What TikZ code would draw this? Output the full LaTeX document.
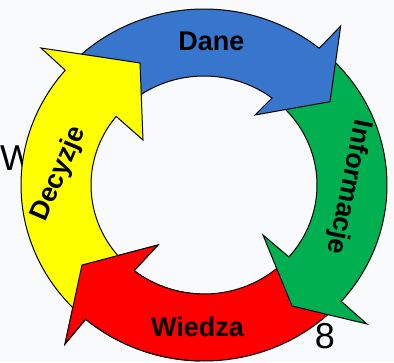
\documentclass[tikz,border=0pt]{standalone}
\usepackage{fontspec}
\setmainfont{Liberation Sans}
\definecolor{bgC}{RGB}{249,250,252}
\definecolor{blueC}{RGB}{55,118,204}
\definecolor{greenC}{RGB}{0,176,80}
\definecolor{redC}{RGB}{255,0,0}
\definecolor{yellowC}{RGB}{255,255,0}
\tikzset{
  arrowshape/.style={draw=black, line width=1pt, line join=miter},
  lbl/.style={font=\fontsize{27}{31}\selectfont\bfseries, inner sep=0pt, anchor=base},
  stray/.style={font=\fontsize{36}{40}\selectfont, inner sep=0pt, anchor=base}
}
\newcommand{\redarrowpath}{plot[variable=\t,domain=44.5:130.3,samples=50] ({204+183*cos(\t)},{185+176*sin(\t)}) -- (65,344) -- (82,265) -- (158,245) -- plot[variable=\t,domain=128.2:45.5,samples=50] ({204+113*cos(\t)},{185+109*sin(\t)}) -- cycle}
\begin{document}
\begin{tikzpicture}[x=1pt,y=-1pt]
\useasboundingbox (0,0) rectangle (394,362);
\clip (0,0) rectangle (394,362);
\fill[bgC] (0,0) rectangle (394,362);
% stray texts behind
\node[stray] (wlet) at (17,170) {W};
\node[stray] (eight) at (325,348) {8};
% red (Wiedza)
\path[arrowshape, fill=redC] \redarrowpath;
% green (Informacje)
\path[arrowshape, fill=greenC] plot[variable=\t,domain=-47.5:41.4,samples=50] ({204+183*cos(\t)},{185+176*sin(\t)}) -- (367,324) -- (292,306) -- (263,235) -- plot[variable=\t,domain=41.3:-48,samples=50] ({204+113*cos(\t)},{185+109*sin(\t)}) -- cycle;
% blue (Dane)
\path[arrowshape, fill=blueC] plot[variable=\t,domain=-135.3:-51,samples=50] ({204+183*cos(\t)},{185+176*sin(\t)}) -- (340.7,26) -- (330,101.7) -- (255,115) -- plot[variable=\t,domain=-53:-132.3,samples=50] ({204+113*cos(\t)},{185+109*sin(\t)}) -- cycle;
% yellow (Decyzje)
\path[arrowshape, fill=yellowC] plot[variable=\t,domain=133:220.7,samples=50] ({204+183*cos(\t)},{185+176*sin(\t)}) -- (41,48) -- (140,63) -- (143,140) -- plot[variable=\t,domain=219:134,samples=50] ({204+113*cos(\t)},{185+109*sin(\t)}) -- cycle;
% red head again on top of the yellow tail
\begin{scope}
\clip (40,225) rectangle (200,362);
\path[arrowshape, fill=redC] \redarrowpath;
\end{scope}
% labels
\node[lbl] (dane) at (211.5,50.7) {Dane};
\node[lbl] (wiedza) at (197.5,336.7) {Wiedza};
\node[lbl, rotate=-101.5] (info) at (341.4,185.6) {Informacje};
\node[lbl, rotate=67] (decyzje) at (65.6,176.6) {Decyzje};
\end{tikzpicture}
\end{document}
